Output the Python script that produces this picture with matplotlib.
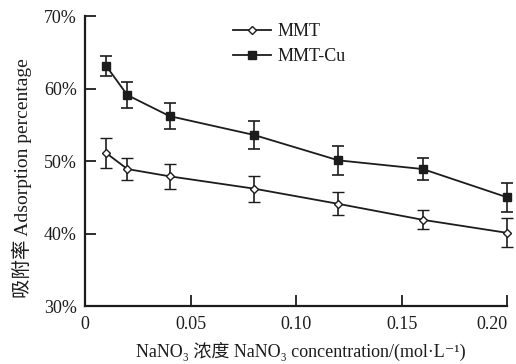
import matplotlib
matplotlib.use("Agg")
import matplotlib.pyplot as plt
from matplotlib.lines import Line2D

# NaNO3 concentration (mol/L)
conc = [0.01, 0.02, 0.04, 0.08, 0.12, 0.16, 0.20]

# adsorption percentage (%) with error bars
mmt = [51.1, 48.9, 47.9, 46.2, 44.1, 41.9, 40.1]
mmt_err = [2.1, 1.5, 1.7, 1.8, 1.6, 1.3, 2.0]
mmt_cu = [63.1, 59.1, 56.2, 53.6, 50.1, 48.9, 45.0]
mmt_cu_err = [1.4, 1.8, 1.8, 1.9, 2.0, 1.5, 2.0]

xticks = [0, 0.05, 0.10, 0.15, 0.20]
xtick_labels = ["0", "0.05", "0.10", "0.15", "0.20"]
yticks = [30, 40, 50, 60, 70]
ytick_labels = ["30%", "40%", "50%", "60%", "70%"]

fonts = ["Liberation Serif", "Noto Sans CJK SC", "DejaVu Serif"]
plt.rcParams["font.family"] = fonts
ink = "#1c1c1c"

fig = plt.figure(figsize=(5.16, 3.64), dpi=100)
ax = fig.add_axes([0.165, 0.159, 0.818, 0.797])

ax.errorbar(conc, mmt, yerr=mmt_err, color=ink, lw=1.3,
            marker="D", ms=4.5, mfc="white", mec=ink, mew=1.0,
            capsize=4, capthick=1.2, elinewidth=1.2, clip_on=False)
ax.errorbar(conc, mmt_cu, yerr=mmt_cu_err, color=ink, lw=1.3,
            marker="s", ms=5.5, mfc=ink, mec=ink,
            capsize=4, capthick=1.2, elinewidth=1.2, clip_on=False)

ax.set_xlim(0, 0.20)
ax.set_ylim(30, 70)
ax.set_xticks(xticks)
ax.set_xticklabels(xtick_labels)
ax.set_yticks(yticks)
ax.set_yticklabels(ytick_labels)
ax.get_xticklabels()[-1].set_horizontalalignment("right")

for s in ["top", "right"]:
    ax.spines[s].set_visible(False)
for s in ["left", "bottom"]:
    ax.spines[s].set_linewidth(1.6)
    ax.spines[s].set_color(ink)

ax.tick_params(direction="in", length=8, width=1.3, color=ink,
               labelsize=13, labelcolor=ink)
ax.tick_params(axis="x", pad=7)
ax.tick_params(axis="y", pad=6)

ax.set_xlabel("NaNO\u2083 浓度 NaNO\u2083 concentration/(mol·L\u207b\u00b9)",
              fontsize=13, color=ink)
ax.xaxis.set_label_coords(0.512, -0.122)
ax.set_ylabel("吸附率 Adsorption percentage", fontsize=14, color=ink)
ax.yaxis.set_label_coords(-0.125, 0.44)

handles = [
    Line2D([], [], color=ink, lw=1.3, marker="D", ms=4.5, mfc="white",
           mec=ink, mew=1.0),
    Line2D([], [], color=ink, lw=1.3, marker="s", ms=5.5, mfc=ink, mec=ink),
]
leg = ax.legend(handles, ["MMT", "MMT-Cu"], loc="upper left",
                bbox_to_anchor=(0.35, 0.975), frameon=False, fontsize=13,
                handlelength=2.1, handletextpad=0.4, labelspacing=0.45,
                borderpad=0, borderaxespad=0)
for t in leg.get_texts():
    t.set_color(ink)

fig.savefig("out.png", dpi=100)
